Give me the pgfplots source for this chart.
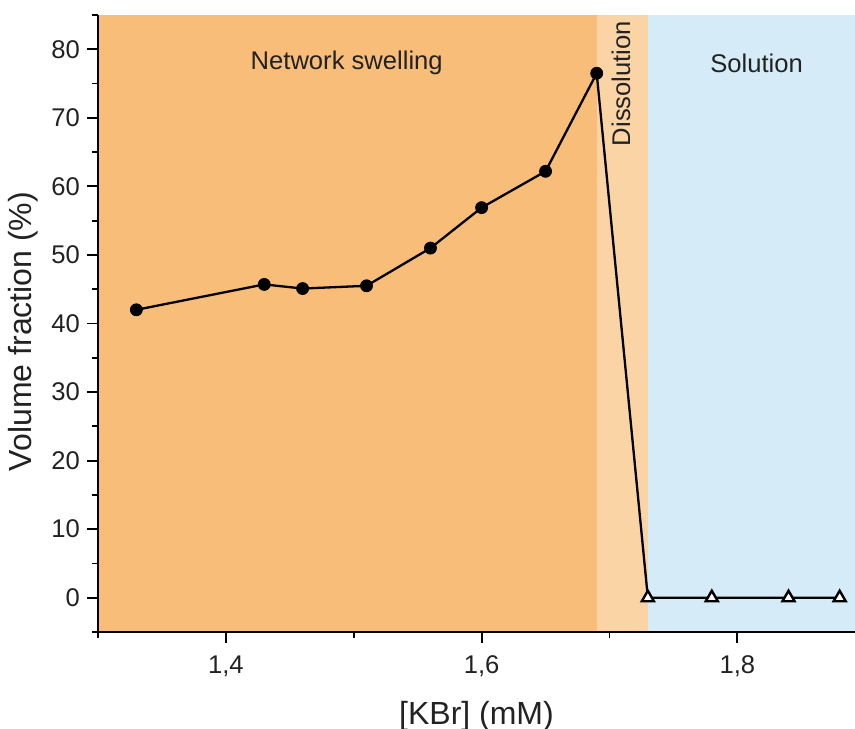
\documentclass[border=0pt]{standalone}
\usepackage{pgfplots}
\pgfplotsset{compat=1.18}
\usepackage{fontspec}
\setmainfont{Liberation Sans}
\usetikzlibrary{calc}
\definecolor{swell}{HTML}{F7BD79}
\definecolor{diss}{HTML}{FBD4A6}
\definecolor{sol}{HTML}{D5ECF8}
\definecolor{txt}{HTML}{222222}
\begin{document}
\begin{tikzpicture}
\begin{axis}[
  scale only axis,
  width=378.5pt, height=308.5pt,
  xmin=1.3, xmax=1.892, ymin=-5, ymax=85,
  axis x line=bottom, axis y line=left,
  axis line style={-, line width=1pt, black},
  axis on top,
  xtick={1.4,1.6,1.8}, minor xtick={1.3,1.5,1.7,1.9},
  ytick={0,10,...,80}, minor ytick={-5,5,...,85},
  tick style={black, line width=0.9pt},
  tick align=outside,
  major tick length=5.5pt, minor tick length=3pt,
  /pgf/number format/assume math mode=true,
  xticklabel style={yshift=-3pt, /pgf/number format/.cd, fixed, fixed zerofill, precision=1, use comma},
  ticklabel style={font=\fontsize{12.8pt}{14pt}\selectfont, text=txt},
  xlabel={[KBr] (mM)}, ylabel={Volume fraction (\%)},
  label style={font=\fontsize{16pt}{18pt}\selectfont, text=txt},
  xlabel style={yshift=-5pt},
  ylabel style={yshift=0pt, xshift=-4pt},
  clip=true,
]
\addplot[draw=none, fill=swell] coordinates {(1.3,-5) (1.69,-5) (1.69,85) (1.3,85)} -- cycle;
\addplot[draw=none, fill=diss] coordinates {(1.69,-5) (1.73,-5) (1.73,85) (1.69,85)} -- cycle;
\addplot[draw=none, fill=sol] coordinates {(1.73,-5) (1.892,-5) (1.892,85) (1.73,85)} -- cycle;
\addplot[black, line width=1.15pt, no marks] coordinates {
(1.33,42.0) (1.43,45.7) (1.46,45.1) (1.51,45.5) (1.56,51.0) (1.60,56.9) (1.65,62.2) (1.69,76.5)
(1.73,0) (1.78,0) (1.84,0) (1.88,0)};
\addplot[only marks, mark=*, mark size=3pt, mark options={fill=black, draw=black}] coordinates {
(1.33,42.0) (1.43,45.7) (1.46,45.1) (1.51,45.5) (1.56,51.0) (1.60,56.9) (1.65,62.2) (1.69,76.5)};
\addplot[only marks, mark=triangle*, mark size=3.5pt, mark options={fill=white, draw=black, line width=1.2pt}] coordinates {
(1.73,0) (1.78,0) (1.84,0) (1.88,0)};
\node[text=txt, font=\fontsize{12.8pt}{14pt}\selectfont] at (axis cs:1.4945,78) {Network swelling};
\node[text=txt, font=\fontsize{12.8pt}{14pt}\selectfont] at (axis cs:1.815,78) {Solution};
\node[text=txt, font=\fontsize{12.8pt}{14pt}\selectfont, rotate=90] at (axis cs:1.709,75) {Dissolution};
\end{axis}
\pgfresetboundingbox
\path ($(current axis.south west)+(-49pt,-48pt)$) rectangle ($(current axis.north east)+(0pt,7.5pt)$);
\end{tikzpicture}
\end{document}
